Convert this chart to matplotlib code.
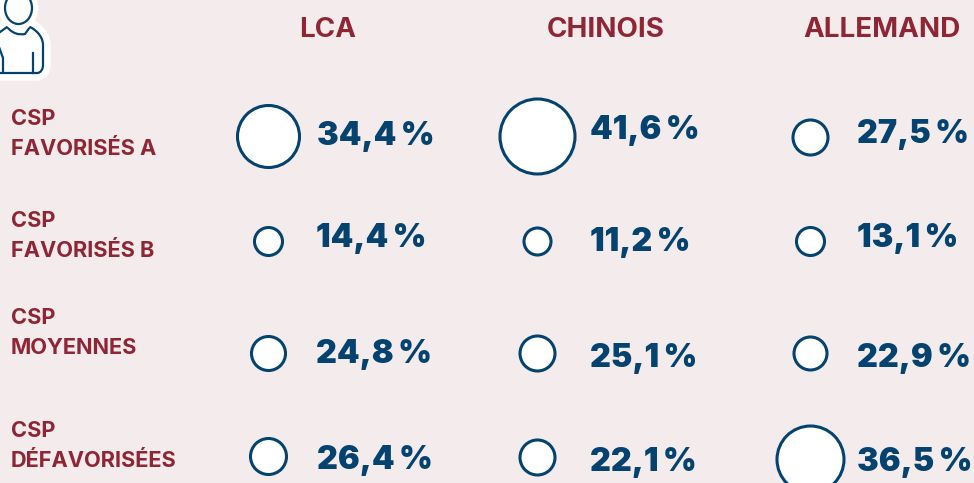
import matplotlib
matplotlib.use("Agg")
import matplotlib.pyplot as plt
from matplotlib.path import Path
from matplotlib.patches import PathPatch, Ellipse
import matplotlib.patheffects as pe

columns = ["LCA", "CHINOIS", "ALLEMAND"]
rows = ["CSP\nFAVORISÉS A", "CSP\nFAVORISÉS B", "CSP\nMOYENNES", "CSP\nDÉFAVORISÉES"]
lca = [34.4, 14.4, 24.8, 26.4]
chinois = [41.6, 11.2, 25.1, 22.1]
allemand = [27.5, 13.1, 22.9, 36.5]
series = [lca, chinois, allemand]
# bubble diameters, in pixels
lca_d = [62, 28, 34, 36]
chinois_d = [75, 27, 35, 35]
allemand_d = [35, 28, 33, 67]
diameters = [lca_d, chinois_d, allemand_d]

BG = "#f4ecec"
RED = "#8f2635"
BLUE = "#04426f"

W, H = 974, 483
fig = plt.figure(figsize=(W / 100, H / 100), dpi=100, facecolor=BG)
ax = fig.add_axes([0, 0, 1, 1])
ax.set_xlim(0, W)
ax.set_ylim(H, 0)
ax.axis("off")

header_x = [328, 606, 882]
for x, c in zip(header_x, columns):
    ax.text(x, 30, c, ha="center", va="center", color=RED, fontsize=20,
            fontfamily="Inter", fontweight="bold")

label_y = [134, 236, 333, 446]
for y, r in zip(label_y, rows):
    ax.text(11, y, r, ha="left", va="center", color=RED, fontsize=15.7,
            fontfamily="Inter", fontweight="bold", linespacing=1.58)

bubble_x = [268, 537, 810]
text_x = [[317, 316, 316, 317], [590, 590, 590, 590], [857, 857, 857, 857]]
bubble_y = [[136, 241, 353, 456], [136, 241, 353, 457], [137, 241, 353, 459]]
text_y = [[136, 238, 354, 460], [130, 242, 358, 462], [134, 239, 358, 463]]

for j, vals in enumerate(series):
    for i, v in enumerate(vals):
        d = diameters[j][i]
        # diameter in px -> scatter area in pt^2 (1 px = 0.72 pt at 100 dpi)
        ax.scatter([bubble_x[j]], [bubble_y[j][i]], s=(d * 0.72) ** 2,
                   facecolor="white", edgecolor=BLUE, linewidth=2.2, zorder=3)
        label = f"{v:.1f}".replace(".", ",") + "\u2009%"
        ax.text(text_x[j][i], text_y[j][i], label, ha="left", va="center",
                color=BLUE, fontsize=23.3, fontfamily=["Inter", "DejaVu Sans"], fontweight=900)

# person icon
halo = [pe.Stroke(linewidth=11, foreground="white", capstyle="round", joinstyle="round"), pe.Normal()]
body_v = [(-4, 35), (7, 27), (13, 34), (19, 35), (25, 34), (30, 27),
          (38, 31), (43, 38), (43, 45), (43, 65), (43, 69), (41, 73), (37, 73), (2, 73), (-4, 73), (-4, 35)]
body_c = [Path.MOVETO, Path.LINETO, Path.CURVE4, Path.CURVE4, Path.CURVE4, Path.LINETO,
          Path.CURVE4, Path.CURVE4, Path.CURVE4, Path.LINETO, Path.CURVE4, Path.CURVE4, Path.CURVE4,
          Path.LINETO, Path.LINETO, Path.CLOSEPOLY]
body = PathPatch(Path(body_v, body_c), facecolor="white", edgecolor=BLUE, linewidth=1.6, zorder=4)
body.set_path_effects(halo)
ax.add_patch(body)
head = Ellipse((18.5, 8), 27, 32, facecolor="white", edgecolor=BLUE, linewidth=1.6, zorder=5)
head.set_path_effects([pe.Stroke(linewidth=9, foreground="white"), pe.Normal()])
ax.add_patch(head)
ax.plot([33, 33], [53, 73], color=BLUE, lw=1.6, zorder=6)
ax.plot([-1, 3, 3], [47, 58, 72], color=BLUE, lw=1.6, zorder=6)

fig.savefig("out.png", dpi=100, facecolor=BG)
